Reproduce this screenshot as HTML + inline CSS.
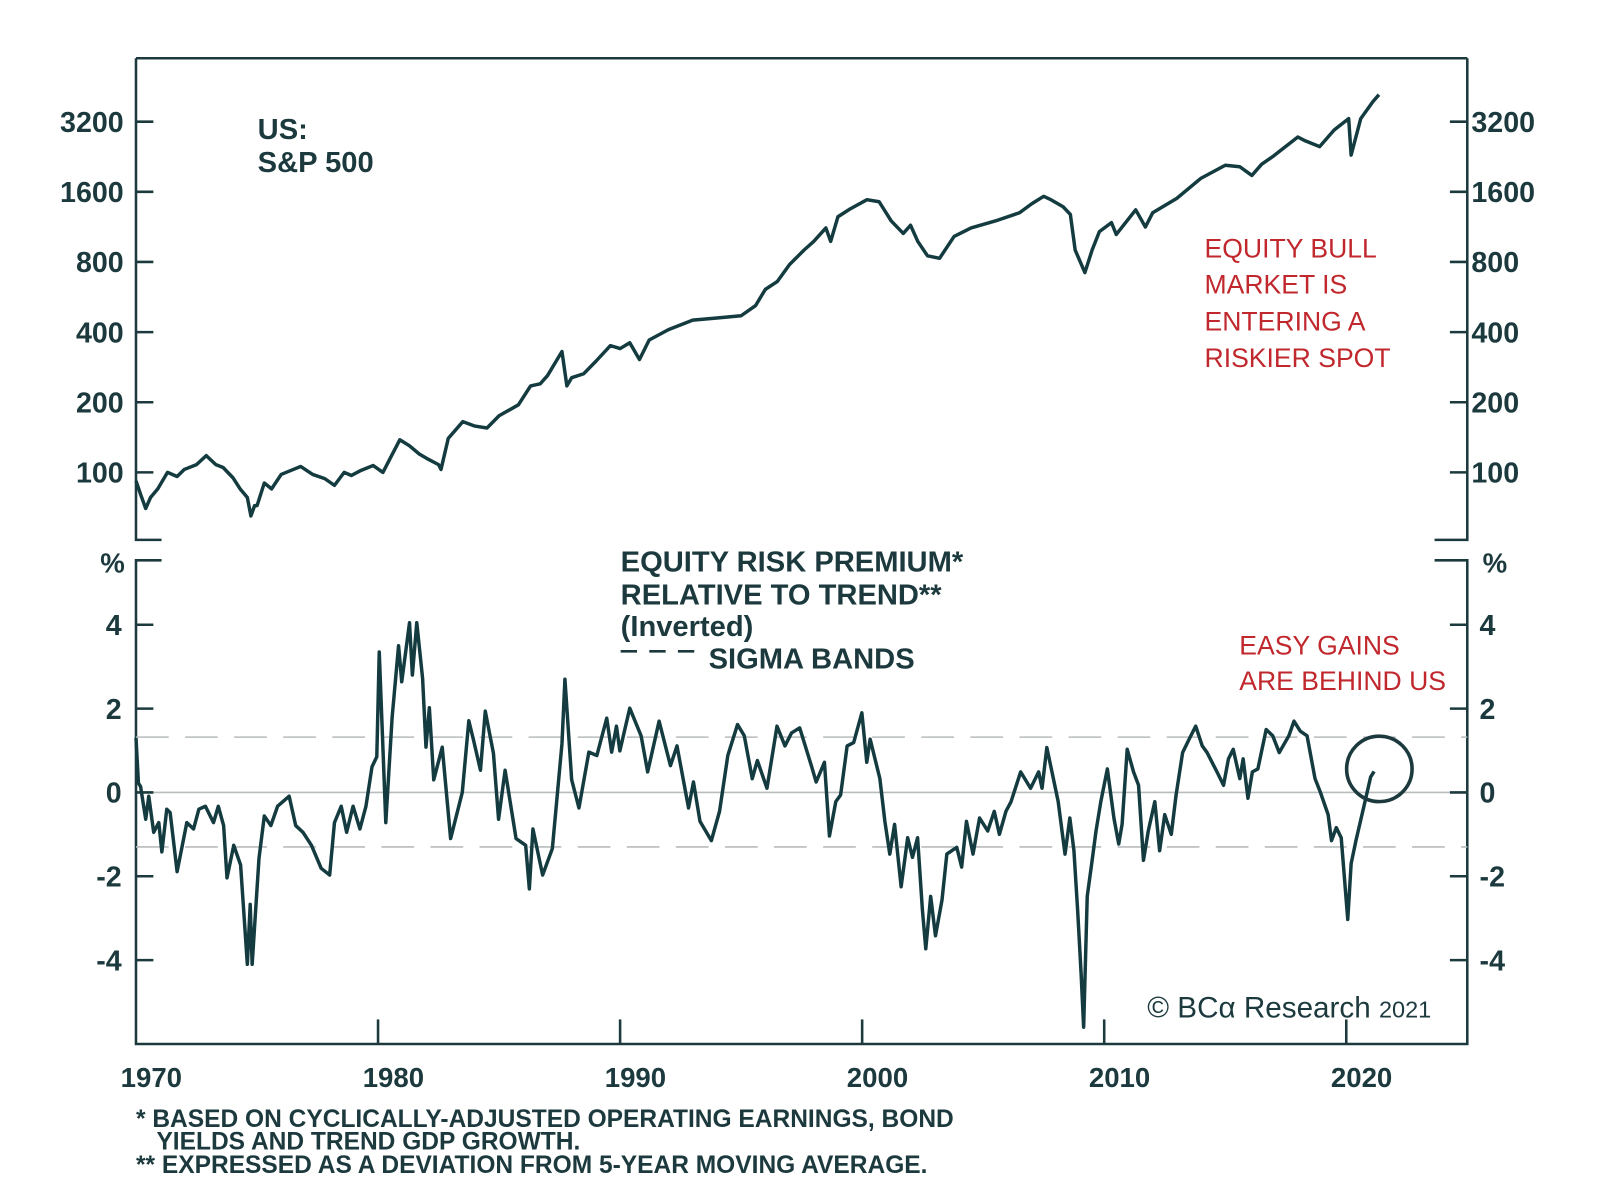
<!DOCTYPE html>
<html><head><meta charset="utf-8">
<style>
html,body{margin:0;padding:0;background:#fff;overflow:hidden;}
svg{display:block;}
text{font-family:"Liberation Sans",Arial,sans-serif;}
</style></head>
<body>
<svg id="chart" width="1600" height="1200" viewBox="0 0 1600 1200" xmlns="http://www.w3.org/2000/svg">
<g transform="scale(1.0225)">
<g id="frame" stroke="#1c3a3e" stroke-width="2.5" fill="none">
  <path d="M133 57 L1435 57"/>
  <path d="M133 57 L133 528 L158 528"/>
  <path d="M1435 57 L1435 528 L1403 528"/>
  <path d="M158 548 L133 548 L133 1021 L1435 1021 L1435 548 L1403 548"/>
</g>
<g id="grid"></g>
<g id="ticks"></g>
<g id="series"></g>
<g>
  <text x="252" y="136" font-size="28.5" font-weight="bold" fill="#1c3a3e">US:</text>
  <text x="252" y="168" font-size="28.5" font-weight="bold" fill="#1c3a3e">S&amp;P 500</text>
  <g fill="#c0282d" font-size="26">
    <text x="1178" y="252">EQUITY BULL</text>
    <text x="1178" y="287">MARKET IS</text>
    <text x="1178" y="323">ENTERING A</text>
    <text x="1178" y="359">RISKIER SPOT</text>
  </g>
  <g fill="#c0282d" font-size="26">
    <text x="1212" y="640">EASY GAINS</text>
    <text x="1212" y="675">ARE BEHIND US</text>
  </g>
  <g fill="#1c3a3e" font-size="28.5" font-weight="bold">
    <text x="607" y="559">EQUITY RISK PREMIUM*</text>
    <text x="607" y="591">RELATIVE TO TREND**</text>
    <text x="607" y="622">(Inverted)</text>
    <text x="693" y="654">SIGMA BANDS</text>
  </g>
  <path d="M607 637 L680 637" stroke="#1c3a3e" stroke-width="2.5" stroke-dasharray="16,12"/>
  <text x="110" y="560" font-size="27" font-weight="bold" fill="#1c3a3e" text-anchor="middle">%</text>
  <text x="1462" y="560" font-size="27" font-weight="bold" fill="#1c3a3e" text-anchor="middle">%</text>
  <circle cx="1349" cy="752" r="32" fill="none" stroke="#1c3a3e" stroke-width="3.5"/>
  <text x="1122" y="995" font-family="Liberation Serif,serif" font-size="29" fill="#1c3a3e">© BCα Research <tspan font-size="23">2021</tspan></text>
  <g fill="#1c3a3e" font-size="24" font-weight="bold">
    <text x="133" y="1102">*  BASED ON CYCLICALLY-ADJUSTED OPERATING EARNINGS, BOND</text>
    <text x="153" y="1124">YIELDS AND TREND GDP GROWTH.</text>
    <text x="133" y="1147">** EXPRESSED AS A DEVIATION FROM 5-YEAR MOVING AVERAGE.</text>
  </g>
</g>
</g>
</svg>
<script>
const spYears=[1970.0,1970.2,1970.4,1970.6,1970.9,1971.3,1971.7,1972.0,1972.5,1972.9,1973.3,1973.6,1974.0,1974.3,1974.6,1974.75,1974.9,1975.0,1975.3,1975.6,1976.0,1976.5,1976.8,1977.3,1977.8,1978.2,1978.6,1978.9,1979.3,1979.8,1980.2,1980.5,1980.9,1981.3,1981.7,1982.0,1982.5,1982.6,1982.9,1983.5,1984.0,1984.5,1985.0,1985.8,1986.3,1986.7,1987.0,1987.6,1987.8,1988.0,1988.5,1989.0,1989.6,1990.0,1990.4,1990.8,1991.2,1992.0,1993.0,1994.0,1995.0,1995.6,1996.0,1996.5,1997.0,1997.6,1998.0,1998.5,1998.7,1999.0,1999.5,2000.2,2000.7,2001.2,2001.7,2002.0,2002.3,2002.7,2003.2,2003.8,2004.5,2005.5,2006.5,2007.0,2007.5,2007.8,2008.3,2008.6,2008.8,2009.2,2009.5,2009.8,2010.3,2010.5,2011.3,2011.7,2012.0,2013.0,2014.0,2015.0,2015.6,2016.1,2016.5,2017.0,2018.0,2018.3,2018.9,2019.5,2020.1,2020.2,2020.6,2021.1,2021.35];
const spValues=[92,80,70,78,85,100,96,103,108,118,108,105,95,85,78,65,72,72,90,85,98,103,106,98,94,88,100,97,102,107,100,115,138,130,120,115,108,103,140,165,158,155,175,195,235,240,260,330,235,255,265,300,350,340,360,305,370,410,450,460,470,520,610,660,780,900,980,1120,980,1250,1350,1480,1450,1200,1060,1150,980,850,830,1030,1120,1200,1300,1420,1530,1480,1380,1280,900,720,900,1080,1180,1050,1340,1130,1300,1500,1830,2080,2050,1880,2100,2280,2750,2650,2500,2950,3300,2300,3300,3900,4180];
const erpYears=[1970.0,1970.1,1970.19,1970.4,1970.53,1970.73,1970.94,1971.07,1971.27,1971.41,1971.7,1972.1,1972.38,1972.6,1972.87,1973.2,1973.4,1973.62,1973.76,1974.04,1974.32,1974.6,1974.72,1974.8,1975.08,1975.3,1975.57,1975.85,1976.33,1976.6,1976.9,1977.25,1977.65,1978.0,1978.2,1978.48,1978.7,1978.97,1979.25,1979.5,1979.75,1979.95,1980.05,1980.32,1980.58,1980.85,1980.98,1981.3,1981.42,1981.6,1981.84,1981.98,1982.12,1982.3,1982.65,1983.0,1983.48,1983.75,1983.95,1984.23,1984.43,1984.77,1984.98,1985.25,1985.7,1986.1,1986.25,1986.4,1986.8,1987.2,1987.6,1987.72,1988.0,1988.3,1988.71,1989.04,1989.45,1989.65,1989.85,1989.99,1990.4,1990.87,1991.14,1991.61,1992.08,1992.35,1992.83,1993.03,1993.3,1993.77,1994.11,1994.45,1994.85,1995.13,1995.46,1995.67,1996.07,1996.48,1996.81,1997.08,1997.42,1997.9,1998.1,1998.44,1998.65,1998.91,1999.11,1999.38,1999.65,1999.99,2000.19,2000.33,2000.73,2000.94,2001.14,2001.34,2001.61,2001.88,2002.08,2002.29,2002.49,2002.63,2002.83,2003.03,2003.3,2003.5,2003.91,2004.11,2004.31,2004.58,2004.85,2005.19,2005.46,2005.67,2005.94,2006.15,2006.55,2006.96,2007.29,2007.43,2007.63,2007.9,2008.1,2008.38,2008.58,2008.75,2008.9,2009.05,2009.15,2009.3,2009.5,2009.66,2009.86,2010.13,2010.4,2010.6,2010.74,2010.95,2011.21,2011.42,2011.62,2011.82,2012.09,2012.29,2012.5,2012.77,2012.97,2013.24,2013.51,2013.78,2014.05,2014.25,2014.66,2014.93,2015.13,2015.33,2015.6,2015.74,2015.94,2016.12,2016.35,2016.69,2016.96,2017.23,2017.63,2017.84,2018.1,2018.38,2018.71,2018.92,2019.25,2019.39,2019.59,2019.79,2020.06,2020.2,2020.4,2020.74,2021.01,2021.15,2021.35];
const erpValues=[1.3,0.22,0.14,-0.64,-0.09,-0.95,-0.72,-1.42,-0.4,-0.48,-1.89,-0.72,-0.87,-0.4,-0.33,-0.72,-0.33,-0.79,-2.04,-1.26,-1.73,-4.1,-2.67,-4.1,-1.57,-0.56,-0.79,-0.33,-0.09,-0.79,-0.95,-1.26,-1.81,-1.97,-0.72,-0.33,-0.95,-0.33,-0.87,-0.33,0.61,0.85,3.35,-0.72,1.79,3.5,2.64,4.05,2.8,4.05,2.72,1.08,2.02,0.3,1.08,-1.1,0.0,1.71,1.24,0.53,1.94,0.93,-0.64,0.53,-1.1,-1.26,-2.3,-0.87,-1.97,-1.34,1.16,2.7,0.3,-0.37,0.96,0.88,1.77,0.96,1.58,0.99,2.01,1.35,0.49,1.7,0.64,1.11,-0.37,0.25,-0.69,-1.15,-0.45,0.88,1.62,1.35,0.33,0.76,0.1,1.58,1.11,1.42,1.54,0.64,0.25,0.72,-1.04,-0.22,-0.06,1.11,1.19,1.9,0.72,1.27,0.33,-0.69,-1.47,-0.76,-2.25,-1.08,-1.55,-1.08,-2.8,-3.73,-2.48,-3.42,-2.56,-1.47,-1.31,-1.78,-0.69,-1.47,-0.61,-0.92,-0.45,-1.0,-0.45,-0.22,0.49,0.1,0.49,0.1,1.07,0.33,-0.22,-1.47,-0.61,-1.39,-2.8,-4.36,-5.6,-2.48,-1.62,-0.92,-0.22,0.56,-0.61,-1.23,-0.76,1.03,0.49,0.17,-1.62,-0.92,-0.22,-1.39,-0.53,-1.0,-0.06,0.95,1.27,1.58,1.11,0.95,0.49,0.17,0.8,1.03,0.33,0.8,-0.14,0.49,0.56,1.5,1.35,0.95,1.35,1.7,1.46,1.35,0.33,0.02,-0.53,-1.15,-0.84,-1.08,-3.03,-1.7,-1.15,-0.3,0.37,0.5];
const topTicks=[100,200,400,800,1600,3200];
const botTicks=[4,2,0,-2,-4];
const botTickLabels=["4","2","0","-2","-4"];
const xTicks=[1970,1980,1990,2000,2010,2020];
const sigmaBands=[1.32,-1.3];

const NS='http://www.w3.org/2000/svg';
const X0=133,X1=1435,YR0=1970,YR1=2025;
const xs=y=>X0+(y-YR0)*(X1-X0)/(YR1-YR0);
const ysTop=v=>462-68.6*Math.log2(v/100);
const ysBot=v=>775-41*v;
const C='#1c3a3e';
function mk(tag,attrs,parent){const e=document.createElementNS(NS,tag);for(const k in attrs)e.setAttribute(k,attrs[k]);parent.appendChild(e);return e;}
const grid=document.getElementById('grid'),ticks=document.getElementById('ticks'),series=document.getElementById('series');

const zl=mk('line',{x1:X0,x2:X1,y1:ysBot(0),y2:ysBot(0),stroke:'#b8bcbc','stroke-width':1.5},grid);


sigmaBands.forEach(b=>{
  const l=mk('line',{x1:X0,x2:X1,y1:ysBot(b),y2:ysBot(b),stroke:'#b8bcbc','stroke-width':1.5,'stroke-dasharray':'32,16'},grid);
  
  
});

topTicks.forEach(t=>{
  const y=ysTop(t);
  const a=mk('line',{x1:X0,x2:X0+17,y1:y,y2:y,stroke:C,'stroke-width':2.5},ticks);
  
  
  const b=mk('line',{x1:X1-17,x2:X1,y1:y,y2:y,stroke:C,'stroke-width':2.5},ticks);
  
  
  const l=mk('text',{x:121,y:y+10,'text-anchor':'end','font-size':28,'font-weight':'bold',fill:C},ticks);l.textContent=t;
  
  
  const r=mk('text',{x:1439,y:y+10,'font-size':28,'font-weight':'bold',fill:C},ticks);r.textContent=t;
  
  
});
botTicks.forEach((t,i)=>{
  const y=ysBot(t);
  const a=mk('line',{x1:X0,x2:X0+17,y1:y,y2:y,stroke:C,'stroke-width':2.5},ticks);
  
  
  const b=mk('line',{x1:X1-17,x2:X1,y1:y,y2:y,stroke:C,'stroke-width':2.5},ticks);
  
  
  const l=mk('text',{x:119,y:y+10,'text-anchor':'end','font-size':28,'font-weight':'bold',fill:C},ticks);l.textContent=botTickLabels[i];
  
  
  const r=mk('text',{x:1447,y:y+10,'font-size':28,'font-weight':'bold',fill:C},ticks);r.textContent=botTickLabels[i];
  
  
});
xTicks.forEach(t=>{
  const x=xs(t);
  if(t>YR0){const a=mk('line',{x1:x,x2:x,y1:997,y2:1021,stroke:C,'stroke-width':2.5},ticks);
  
  }
  const l=mk('text',{x:x+15,y:1063,'text-anchor':'middle','font-size':27,'font-weight':'bold',fill:C},ticks);l.textContent=t;
  
  
});

const p1=mk('path',{d:spYears.map((y,i)=>(i?'L':'M')+xs(y).toFixed(1)+' '+ysTop(spValues[i]).toFixed(1)).join(' '),fill:'none',stroke:'#143c40','stroke-width':3.4,'stroke-linejoin':'round'},series);


const p2=mk('path',{d:erpYears.map((y,i)=>(i?'L':'M')+xs(y).toFixed(1)+' '+ysBot(erpValues[i]).toFixed(1)).join(' '),fill:'none',stroke:'#143c40','stroke-width':3.4,'stroke-linejoin':'round'},series);


</script>
</body></html>
